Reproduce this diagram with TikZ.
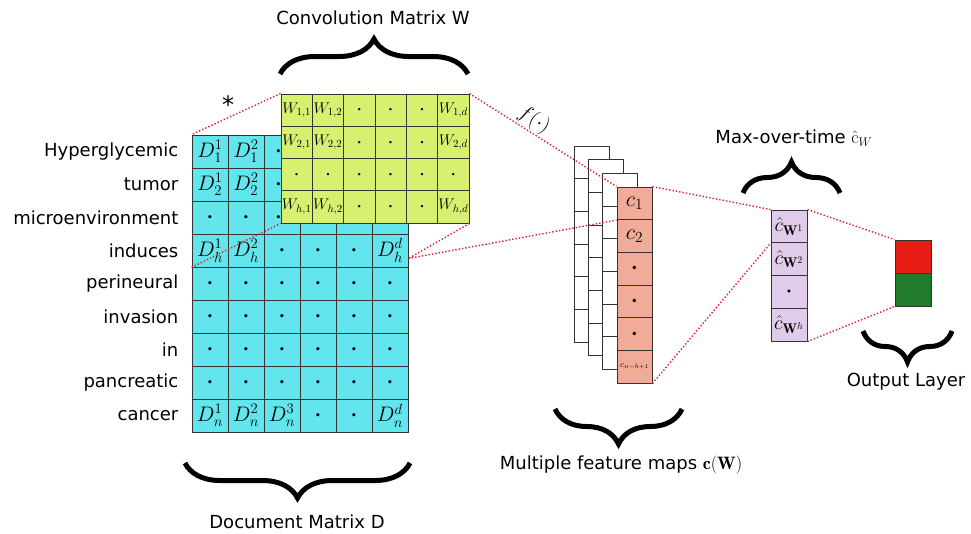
\RequirePackage{fix-cm}
\documentclass[tikz,border=0pt]{standalone}
\usepackage{amsmath}
\usepackage{amssymb}
\usepackage{fontspec}
\newfontfamily\sansfont{DejaVu Sans}
\usepackage{xcolor}
\usepackage{tikz}
\usetikzlibrary{positioning,decorations.pathreplacing}

\definecolor{dcyan}{RGB}{98,229,236}
\definecolor{wlime}{RGB}{214,240,112}
\definecolor{csalmon}{RGB}{240,172,152}
\definecolor{mlilac}{RGB}{224,204,234}
\definecolor{outred}{RGB}{232,28,20}
\definecolor{outgreen}{RGB}{32,124,44}
\definecolor{linkred}{RGB}{228,30,40}

\newcommand{\celldot}{\boldsymbol{\cdot}}
\newcommand{\edgedot}{\celldot\hspace{7pt}}

\tikzset{
    gridcell/.style={draw=black!80, line width=0.9pt, inner sep=0pt},
    dcell/.style={gridcell, fill=dcyan, minimum width=36pt, minimum height=33pt, font=\fontsize{21}{21}\selectfont},
    wcell/.style={gridcell, fill=wlime, minimum width=31.33pt, minimum height=32.25pt, font=\fontsize{15.5}{15.5}\selectfont},
    fcell/.style={gridcell, fill=white, minimum width=35pt, minimum height=32.67pt},
    ccell/.style={fcell, fill=csalmon, font=\fontsize{22}{22}\selectfont},
    mcell/.style={gridcell, fill=mlilac, minimum width=36pt, minimum height=32.75pt, font=\fontsize{20}{20}\selectfont},
    outcell/.style={gridcell, minimum width=36pt, minimum height=33pt},
    link/.style={draw=linkred, dotted, line width=1.4pt},
    bigbrace/.style={decorate, decoration={brace, amplitude=#1}, line width=5pt},
    caption/.style={font=\sansfont\fontsize{18}{21}\selectfont, inner sep=0pt},
    word/.style={caption, anchor=east}
}

\begin{document}
\begin{tikzpicture}[x=1pt, y=-1pt]
    \useasboundingbox (0,0) rectangle (971,533);

    % Document matrix D (cells under W are left empty)
    \foreach \row [count=\i from 0] in {
        {D_1^1,D_1^2,\edgedot,,,},
        {D_2^1,D_2^2,\edgedot,,,},
        {\celldot,\celldot,\edgedot,,,},
        {D_h^1,D_h^2,\celldot,\celldot,\celldot,D_h^d},
        {\celldot,\celldot,\celldot,\celldot,\celldot,\celldot},
        {\celldot,\celldot,\celldot,\celldot,\celldot,\celldot},
        {\celldot,\celldot,\celldot,\celldot,\celldot,\celldot},
        {\celldot,\celldot,\celldot,\celldot,\celldot,\celldot},
        {D_n^1,D_n^2,D_n^3,\celldot,\celldot,D_n^d}} {
        \foreach \val [count=\j from 0] in \row {
            \node[dcell] (d-\i-\j) at ({210+36*\j}, {151.5+33*\i}) {$\val$};
        }
    }
    \foreach \word [count=\i from 0] in {Hyperglycemic,tumor,microenvironment,induces,perineural,invasion,in,pancreatic,cancer} {
        \node[word, left=13pt of d-\i-0] (t-\i) {\word};
    }

    % Convolution matrix W
    \foreach \row [count=\i from 0] in {
        {{W_{1,1}},{W_{1,2}},\celldot,\celldot,\celldot,{W_{1,d}}},
        {{W_{2,1}},{W_{2,2}},\celldot,\celldot,\celldot,{W_{2,d}}},
        {\celldot,\celldot,\celldot,\celldot,\celldot,\celldot},
        {{W_{h,1}},{W_{h,2}},\celldot,\celldot,\celldot,{W_{h,d}}}} {
        \foreach \val [count=\j from 0] in \row {
            \node[wcell] (w-\i-\j) at ({296.67+31.33*\j}, {110.1+32.25*\i}) {$\val$};
        }
    }
    \node (star) at (228,105) {\sansfont\fontsize{24}{24}\selectfont *};
    \node[rotate=-32] (fmap) at (534,120) {\fontsize{21}{21}\selectfont$f(\cdot)$};

    % Feature maps
    \foreach \k in {0,1,2} {
        \foreach \i in {0,...,5} {
            \node[fcell] (f-\k-\i) at ({591.5+14.33*\k}, {162.3+13.67*\k+32.67*\i}) {};
        }
    }
    \foreach \val [count=\i from 0] in {c_1,c_2,\celldot,\celldot,\celldot} {
        \node[ccell] (c-\i) at (634.5, {203.33+32.67*\i}) {$\val$};
    }
    \node[ccell, font=\fontsize{9}{9}\selectfont] (c-5) at (634.5, 366.7) {$c_{n-h+1}$};

    % Max-over-time
    \foreach \val [count=\i from 0] in {\hat{c}_{\mathbf{W}^1},\hat{c}_{\mathbf{W}^2},\celldot,\hat{c}_{\mathbf{W}^h}} {
        \node[mcell] (m-\i) at (789, {226.4+32.75*\i}) {$\val$};
    }

    % Output layer
    \node[outcell, fill=outred] (o-1) at (913, 256.5) {};
    \node[outcell, fill=outgreen] (o-2) at (913, 289.5) {};

    % Dotted links
    \coordinate (dh) at ([yshift=-8pt]d-3-5.east);
    \draw[link] (w-0-0.north west) -- (d-0-0.north west);
    \draw[link] (d-3-0.south west) -- (w-3-0.south west);
    \draw[link] (w-3-5.south east) -- (dh);
    \draw[link] (w-0-5.north east) -- (c-0.north west);
    \draw[link] (dh) -- (c-0.south west);
    \draw[link] (c-0.north east) -- (m-0.north west);
    \draw[link] (c-5.south east) -- (m-0.south west);
    \draw[link] (m-0.north east) -- (o-1.north west);
    \draw[link] (m-3.south east) -- (o-2.south west);

    % Braces and captions
    \draw[bigbrace=35] (280,74) -- (468,74);
    \node[caption] (convcap) at (373,18) {Convolution Matrix W};
    \draw[bigbrace=31] (743,193) -- (840,193);
    \node[caption] (maxcap) at (794,138) {Max-over-time $\hat{\mathrm{c}}_{W}$};
    \draw[bigbrace=31] (952,331) -- (863,331);
    \node[caption] (outcap) at (906,382) {Output Layer};
    \draw[bigbrace=35] (410,463) -- (185,463);
    \node[caption] (doccap) at (297,522) {Document Matrix D};
    \draw[bigbrace=35] (682,409) -- (555,409);
    \node[caption] (mapcap) at (621,465) {Multiple feature maps $\mathbf{c}(\mathbf{W})$};
\end{tikzpicture}
\end{document}
